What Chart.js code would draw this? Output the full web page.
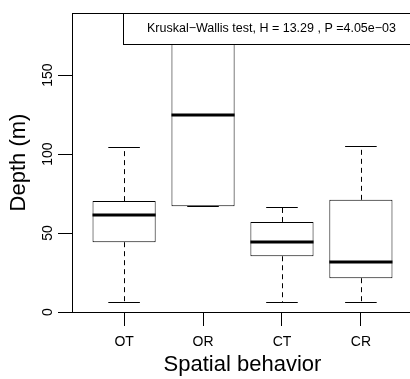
<!DOCTYPE html>
<html>
<head>
<meta charset="utf-8">
<script src="https://cdn.jsdelivr.net/npm/chart.js@4/dist/chart.umd.min.js"></script>
<style>
  html, body { margin: 0; padding: 0; background: #fff; overflow: hidden; }
  #wrap { width: 416px; height: 379px; }
</style>
</head>
<body>
<div id="wrap"><canvas id="boxChart" width="416" height="379"></canvas></div>
<script>
// Data
const categories = ['OT', 'OR', 'CT', 'CR'];
const lowerWhisker = [6.3, 67, 6.3, 6.3];
const lowerQuartile = [44.2, 67, 35.3, 21.4];
const medians = [61.3, 124.8, 44.4, 31.7];
const upperQuartile = [70.2, 183, 57, 71];
const upperWhisker = [104.2, 183, 66.2, 105.2];
const yTicks = [0, 50, 100, 150];
const testLabel = 'Kruskal\u2212Wallis test, H = 13.29 , P =4.05e\u221203';

const FONT = '"Liberation Sans", Arial, Helvetica, sans-serif';

// Whiskers, staples, medians, frame, legend and rotated y labels
const boxExtras = {
  id: 'boxExtras',
  afterDatasetsDraw(chart) {
    const { ctx, scales: { x, y } } = chart;
    const seg = (x1, y1, x2, y2) => {
      ctx.beginPath();
      ctx.moveTo(x1, y1);
      ctx.lineTo(x2, y2);
      ctx.stroke();
    };
    ctx.save();
    ctx.strokeStyle = '#000';
    ctx.lineCap = 'butt';
    categories.forEach((cat, i) => {
      const cx = Math.round(x.getPixelForValue(i + 1)) + 0.5;
      ctx.lineWidth = 1;
      ctx.setLineDash([5, 4]);
      seg(cx, y.getPixelForValue(upperQuartile[i]), cx, y.getPixelForValue(upperWhisker[i]));
      seg(cx, y.getPixelForValue(lowerQuartile[i]), cx, y.getPixelForValue(lowerWhisker[i]));
      ctx.setLineDash([]);
      // staples
      const sl = x.getPixelForValue(i + 1 - 0.2);
      const sr = x.getPixelForValue(i + 1 + 0.2);
      const yh = Math.round(y.getPixelForValue(upperWhisker[i])) + 0.5;
      const yl = Math.round(y.getPixelForValue(lowerWhisker[i])) + 0.5;
      seg(sl, yh, sr, yh);
      seg(sl, yl, sr, yl);
      // median
      ctx.lineWidth = 3;
      const ym = Math.round(y.getPixelForValue(medians[i]));
      seg(x.getPixelForValue(i + 1 - 0.4), ym, x.getPixelForValue(i + 1 + 0.4), ym);
    });
    ctx.restore();
  },
  afterDraw(chart) {
    const { ctx, chartArea: a, scales: { y } } = chart;
    ctx.save();
    ctx.strokeStyle = '#000';
    ctx.lineWidth = 1;
    // box around the plot
    ctx.strokeRect(Math.round(a.left) + 0.5, Math.round(a.top) + 0.5,
      Math.round(a.right - a.left), Math.round(a.bottom - a.top));

    // legend at top right
    ctx.font = '12.5px ' + FONT;
    const tw = ctx.measureText(testLabel).width;
    const lh = 31;
    const lx = Math.round(a.right - tw - 41);
    ctx.fillStyle = '#fff';
    ctx.fillRect(lx + 0.5, Math.round(a.top) + 0.5, a.right - lx, lh);
    ctx.strokeRect(lx + 0.5, Math.round(a.top) + 0.5, a.right - lx, lh);
    ctx.fillStyle = '#000';
    ctx.textAlign = 'left';
    ctx.textBaseline = 'middle';
    ctx.fillText(testLabel, lx + 24, a.top + lh / 2 + 0.5);

    // y tick labels, rotated like R's las = 0
    ctx.font = '14px ' + FONT;
    ctx.textAlign = 'center';
    yTicks.forEach((v) => {
      ctx.save();
      ctx.translate(a.left - 24, y.getPixelForValue(v));
      ctx.rotate(-Math.PI / 2);
      ctx.fillText(String(v), 0, 0);
      ctx.restore();
    });
    ctx.restore();
  },
};

const ctx = document.getElementById('boxChart').getContext('2d');
const chart = new Chart(ctx, {
  type: 'bar',
  data: {
    datasets: [
      {
        data: categories.map((c, i) => ({ x: i + 1, y: [lowerQuartile[i], upperQuartile[i]] })),
        backgroundColor: '#fff',
        borderColor: '#000',
        borderWidth: 1,
        borderSkipped: false,
        barPercentage: 1,
        categoryPercentage: 0.8,
      },
    ],
  },
  options: {
    responsive: false,
    animation: false,
    devicePixelRatio: 1,
    layout: { padding: { top: 13, right: 3, left: 0, bottom: 0 } },
    plugins: {
      legend: { display: false },
      tooltip: { enabled: false },
    },
    scales: {
      x: {
        type: 'linear',
        min: 0.34,
        max: 4.66,
        offset: false,
        afterBuildTicks: (scale) => {
          scale.ticks = categories.map((c, i) => ({ value: i + 1 }));
        },
        afterFit: (scale) => { scale.height = 67; },
        grid: { offset: false, drawOnChartArea: false, drawTicks: true, tickLength: 14, color: '#000', tickColor: '#000' },
        border: { display: true, color: '#000', width: 1 },
        ticks: {
          color: '#000',
          padding: 8,
          maxRotation: 0,
          font: { family: FONT, size: 14 },
          callback: (v) => categories[v - 1] || '',
        },
        title: {
          display: true,
          text: 'Spatial behavior',
          color: '#000',
          font: { family: FONT, size: 22, lineHeight: 1 },
          padding: { top: 0, bottom: 3 },
        },
      },
      y: {
        min: 0,
        max: 189.3,
        afterBuildTicks: (scale) => {
          scale.ticks = yTicks.map((v) => ({ value: v }));
        },
        afterFit: (scale) => { scale.width = 72; },
        grid: { drawOnChartArea: false, drawTicks: true, tickLength: 14, color: '#000', tickColor: '#000' },
        border: { display: true, color: '#000', width: 1 },
        ticks: { display: false },
        title: {
          display: true,
          text: 'Depth (m)',
          color: '#000',
          font: { family: FONT, size: 22, lineHeight: 1 },
          padding: { top: 8, bottom: 0 },
        },
      },
    },
  },
  plugins: [boxExtras],
});
</script>
</body>
</html>
